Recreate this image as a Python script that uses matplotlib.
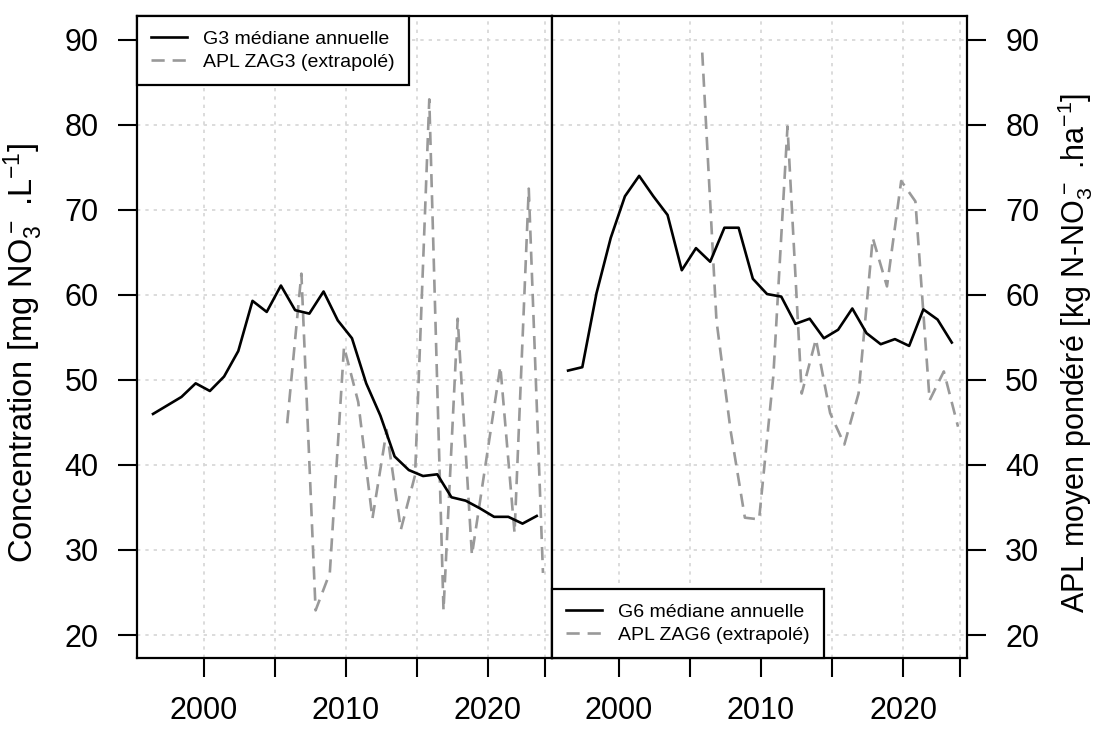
import numpy as np
import matplotlib
matplotlib.use("Agg")
import matplotlib.pyplot as plt

plt.rcParams['font.family'] = ['Liberation Sans', 'DejaVu Sans']
plt.rcParams['mathtext.default'] = 'regular'

# Années des séries (médiane : ~juin, APL : ~novembre)
annees_mediane = list(range(1996, 2024))
annees_apl = list(range(2005, 2024))
decalage_mediane = 0.43
decalage_apl = 0.87

# G3 / ZAG3
g3_mediane = [46.0, 47.0, 48.0, 49.6, 48.7, 50.4, 53.4, 59.3, 58.0, 61.1,
              58.2, 57.8, 60.4, 57.0, 54.9, 49.6, 45.8, 41.0, 39.4, 38.7,
              38.9, 36.2, 35.8, 34.9, 33.9, 33.9, 33.1, 34.0]
apl_zag3 = [44.9, 62.5, 22.9, 27.3, 53.9, 47.4, 33.7, 44.1, 32.4, 38.8,
            83.0, 22.9, 57.2, 29.4, 40.5, 51.6, 32.0, 72.5, 27.3]

# G6 / ZAG6
g6_mediane = [51.1, 51.5, 60.2, 66.7, 71.6, 74.0, 71.6, 69.4, 62.9, 65.5,
              63.9, 67.9, 67.9, 61.9, 60.1, 59.8, 56.6, 57.2, 54.9, 55.9,
              58.4, 55.5, 54.2, 54.8, 54.0, 58.3, 57.1, 54.4]
apl_zag6 = [88.5, 57.0, 44.0, 33.8, 33.6, 50.4, 79.8, 48.4, 54.8, 46.1,
            42.4, 48.4, 66.7, 61.0, 73.4, 71.0, 47.6, 51.0, 44.5]

x_ticks = [2000, 2005, 2010, 2015, 2020, 2024]
x_labels = ['2000', '', '2010', '', '2020', '']
y_ticks = [20, 30, 40, 50, 60, 70, 80, 90]

panneaux = [
    (g3_mediane, apl_zag3, 'G3 médiane annuelle', 'APL ZAG3 (extrapolé)', 'upper left'),
    (g6_mediane, apl_zag6, 'G6 médiane annuelle', 'APL ZAG6 (extrapolé)', 'lower left'),
]

fig = plt.figure(figsize=(10.94, 7.31), dpi=100)
ax1 = fig.add_axes([0.1252, 0.0999, 0.3793, 0.8782])
ax2 = fig.add_axes([0.5046, 0.0999, 0.3793, 0.8782])

x_med = np.array(annees_mediane) + decalage_mediane
x_apl = np.array(annees_apl) + decalage_apl

for ax, (med, apl, lab_med, lab_apl, loc) in zip([ax1, ax2], panneaux):
    ax.plot(x_med, med, color='black', lw=1.9, label=lab_med, zorder=3)
    ax.plot(x_apl, apl, color='#999999', lw=1.9, ls=(0, (5, 3)), label=lab_apl, zorder=2)

    ax.set_xlim(1995.3, 2024.5)
    ax.set_ylim(17.3, 92.8)
    ax.set_xticks(x_ticks)
    ax.set_xticklabels(x_labels)
    ax.set_yticks(y_ticks)
    ax.grid(True, color='#d6d6d6', ls=(0, (2, 3)), lw=1.2, zorder=0)
    ax.set_axisbelow(True)
    for s in ax.spines.values():
        s.set_linewidth(1.6)
    ax.tick_params(axis='both', length=13.5, width=1.5, labelsize=22, pad=14)

    leg = ax.legend(loc=loc, fontsize=14, frameon=True, fancybox=False,
                    borderaxespad=0, borderpad=0.73, labelspacing=0.28,
                    handlelength=1.85, handletextpad=0.8)
    leg.get_frame().set_edgecolor('black')
    leg.get_frame().set_linewidth(1.6)
    leg.get_frame().set_alpha(1)

ax1.set_ylabel('Concentration [mg NO$_3^-$ .L$^{-1}$]', fontsize=23.5)
ax1.yaxis.set_label_coords(-0.222, 0.475)

ax2.tick_params(axis='y', left=False, labelleft=False, right=True, labelright=True)
ax2.yaxis.set_label_position('right')
ax2.set_ylabel('APL moyen pondéré [kg N-NO$_3^-$ .ha$^{-1}$]', fontsize=22)
ax2.yaxis.set_label_coords(1.212, 0.475)

plt.savefig('out.png', dpi=100)
